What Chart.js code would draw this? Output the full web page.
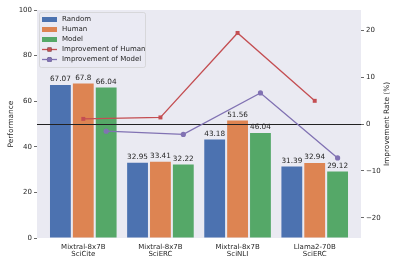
<!DOCTYPE html>
<html>
<head>
<meta charset="utf-8">
<script src="https://cdn.jsdelivr.net/npm/chart.js@4/dist/chart.umd.min.js"></script>
<style>
  body { margin: 0; background: #fff; }
</style>
</head>
<body>
<canvas id="perf-chart" width="399" height="266"></canvas>
<script>
var categories = [["Mixtral-8x7B", "SciCite"], ["Mixtral-8x7B", "SciERC"], ["Mixtral-8x7B", "SciNLI"], ["Llama2-70B", "SciERC"]];
var randomScores = [67.07, 32.95, 43.18, 31.39];
var humanScores = [67.8, 33.41, 51.56, 32.94];
var modelScores = [66.04, 32.22, 46.04, 29.12];
var humanImprovement = [1.09, 1.40, 19.41, 4.94];
var modelImprovement = [-1.54, -2.22, 6.62, -7.23];
var leftTicks = [0, 20, 40, 60, 80, 100];
var rightTicks = [-20, -10, 0, 10, 20];
var refLine = 0;

var textColor = "#262626";
Chart.defaults.font.family = "'DejaVu Sans', sans-serif";
Chart.defaults.color = textColor;

function toPoints(arr) {
  return arr.map(function(v, i) { return {x: i, y: v}; });
}

// move line points onto the bar they belong to
var alignToBars = {
  id: "alignToBars",
  afterDatasetsUpdate: function(chart) {
    chart.data.datasets.forEach(function(ds, i) {
      if (ds.refBar === undefined) return;
      var bars = chart.getDatasetMeta(ds.refBar).data;
      chart.getDatasetMeta(i).data.forEach(function(pt, j) {
        pt.x = bars[j].x;
      });
    });
  }
};

var plotBackground = {
  id: "plotBackground",
  beforeDraw: function(chart) {
    var a = chart.chartArea, ctx = chart.ctx;
    ctx.save();
    ctx.fillStyle = "#fff";
    ctx.fillRect(0, 0, chart.width, chart.height);
    ctx.fillStyle = "#EAEAF2";
    ctx.fillRect(a.left, a.top, a.right - a.left, a.bottom - a.top);
    ctx.restore();
  }
};

// zero line + value labels, drawn after the last bar dataset
var barExtras = {
  id: "barExtras",
  afterDatasetDraw: function(chart, args) {
    if (args.index !== 0) return;
    var ctx = chart.ctx, a = chart.chartArea;
    ctx.save();
    ctx.font = "7.3px 'DejaVu Sans'";
    ctx.fillStyle = textColor;
    ctx.textAlign = "center";
    ctx.textBaseline = "bottom";
    chart.data.datasets.forEach(function(ds, i) {
      if (ds.type !== "bar") return;
      chart.getDatasetMeta(i).data.forEach(function(bar, j) {
        ctx.fillText(String(ds.data[j].y), bar.x, bar.y - 2);
      });
    });
    var y0 = Math.round(chart.scales.y1.getPixelForValue(refLine)) + 0.5;
    ctx.strokeStyle = "#222";
    ctx.lineWidth = 1.1;
    ctx.beginPath();
    ctx.moveTo(a.left, y0);
    ctx.lineTo(a.right, y0);
    ctx.stroke();
    ctx.restore();
  }
};

var customLegend = {
  id: "customLegend",
  afterDraw: function(chart) {
    var ctx = chart.ctx, a = chart.chartArea;
    var x0 = a.left + 2, y0 = a.top + 2, w = 106, h = 55;
    ctx.save();
    ctx.fillStyle = "rgba(234,234,242,0.8)";
    ctx.strokeStyle = "rgba(204,204,204,0.8)";
    ctx.lineWidth = 0.8;
    ctx.beginPath();
    ctx.roundRect(x0 + 0.5, y0 + 0.5, w, h, 2);
    ctx.fill();
    ctx.stroke();
    ctx.font = "7px 'DejaVu Sans'";
    ctx.textBaseline = "middle";
    ctx.textAlign = "left";
    chart.data.datasets.forEach(function(ds, i) {
      var cy = y0 + 7.5 + i * 10;
      var px = x0 + 3;
      if (ds.type === "bar") {
        ctx.fillStyle = ds.backgroundColor;
        ctx.fillRect(px, cy - 2.5, 15, 5);
      } else {
        ctx.strokeStyle = ds.borderColor;
        ctx.lineWidth = ds.borderWidth;
        ctx.beginPath();
        ctx.moveTo(px, cy);
        ctx.lineTo(px + 15, cy);
        ctx.stroke();
        Chart.helpers.drawPoint(ctx, {pointStyle: ds.pointStyle, radius: ds.pointRadius, borderWidth: 0}, px + 7.5, cy);
        ctx.fillStyle = ds.pointBackgroundColor;
        ctx.fill();
      }
      ctx.fillStyle = textColor;
      ctx.fillText(ds.label, px + 20, cy);
    });
    // right axis title, reading bottom to top
    ctx.font = "7.4px 'DejaVu Sans'";
    ctx.textAlign = "center";
    ctx.translate(387, (a.top + a.bottom) / 2);
    ctx.rotate(-Math.PI / 2);
    ctx.fillText("Improvement Rate (%)", 0, 0);
    ctx.restore();
  }
};

var data = {
  datasets: [
    {type: "bar", label: "Random", data: toPoints(randomScores), backgroundColor: "#4C72B0", yAxisID: "y", order: 2},
    {type: "bar", label: "Human", data: toPoints(humanScores), backgroundColor: "#DD8452", yAxisID: "y", order: 2},
    {type: "bar", label: "Model", data: toPoints(modelScores), backgroundColor: "#55A868", yAxisID: "y", order: 2},
    {type: "line", label: "Improvement of Human", data: toPoints(humanImprovement), refBar: 1,
      borderColor: "#C44E52", backgroundColor: "#C44E52", pointBackgroundColor: "#C44E52",
      borderWidth: 1.3, pointStyle: "rect", pointRadius: 2.8, pointBorderWidth: 0, yAxisID: "y1", order: 1},
    {type: "line", label: "Improvement of Model", data: toPoints(modelImprovement), refBar: 2,
      borderColor: "#8172B3", backgroundColor: "#8172B3", pointBackgroundColor: "#8172B3",
      borderWidth: 1.3, pointStyle: "circle", pointRadius: 2.6, pointBorderWidth: 0, yAxisID: "y1", order: 1}
  ]
};

var options = {
  responsive: false,
  animation: false,
  layout: {padding: {top: 10, left: 0, right: 0, bottom: 0}},
  plugins: {legend: {display: false}, tooltip: {enabled: false}},
  datasets: {bar: {categoryPercentage: 0.89, barPercentage: 0.91, borderWidth: 0}},
  scales: {
    x: {
      type: "linear", position: "bottom", min: -0.6, max: 3.6, offset: false,
      afterBuildTicks: function(s) { s.ticks = categories.map(function(c, i) { return {value: i}; }); },
      afterFit: function(s) { s.height = 28; },
      ticks: {
        callback: function(v, i) { return categories[i]; },
        font: {size: 7, lineHeight: 1.08}, color: textColor, padding: 5, maxRotation: 0, autoSkip: false
      },
      grid: {display: false, drawTicks: false, offset: false},
      border: {display: false}
    },
    y: {
      position: "left", min: 0, max: 100,
      afterBuildTicks: function(s) { s.ticks = leftTicks.map(function(v) { return {value: v}; }); },
      afterFit: function(s) { s.width = 37; },
      ticks: {font: {size: 7}, color: textColor, padding: 2},
      grid: {drawOnChartArea: false, tickLength: 3, tickColor: "#444", lineWidth: 0.8},
      border: {display: false},
      title: {display: true, text: "Performance", font: {size: 7.4}, color: textColor, padding: {top: 7, bottom: 0}}
    },
    y1: {
      position: "right", min: -24.3, max: 24.3,
      afterBuildTicks: function(s) { s.ticks = rightTicks.map(function(v) { return {value: v}; }); },
      afterFit: function(s) { s.width = 38; },
      ticks: {
        font: {size: 7}, color: textColor, padding: 2,
        callback: function(v) { return String(v).replace("-", "\u2212"); }
      },
      grid: {drawOnChartArea: false, tickLength: 3, tickColor: "#444", lineWidth: 0.8},
      border: {display: false}
    }
  }
};

var perfChart = new Chart(document.getElementById("perf-chart"), {
  data: data,
  options: options,
  plugins: [plotBackground, alignToBars, barExtras, customLegend]
});
</script>
</body>
</html>
